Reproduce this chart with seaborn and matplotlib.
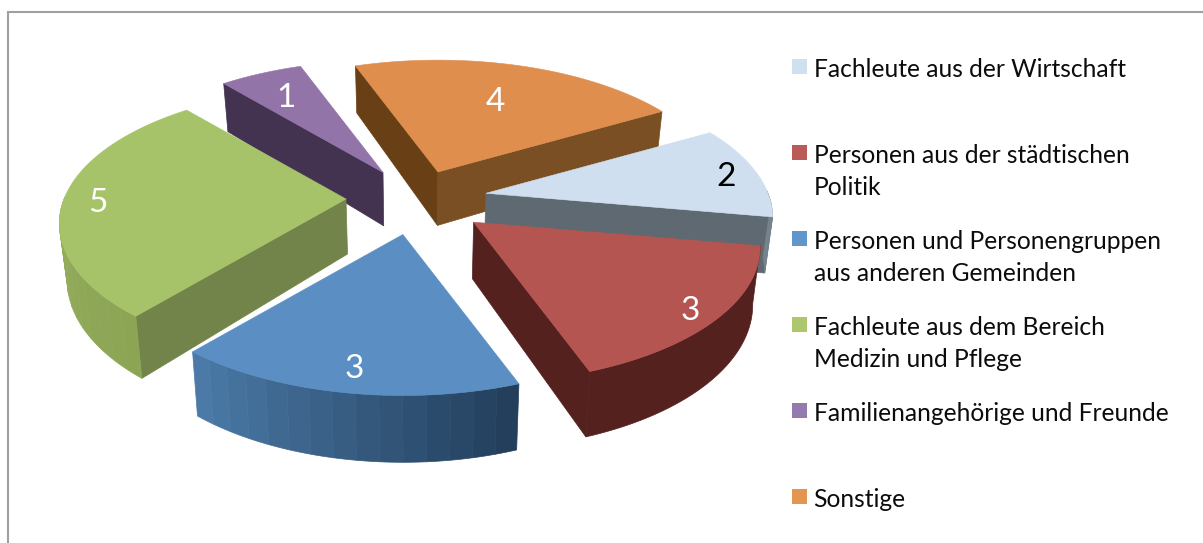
import numpy as np
import matplotlib
matplotlib.use("Agg")
import matplotlib.pyplot as plt
from matplotlib.patches import Polygon, Rectangle
import seaborn as sns

# ---- data ----
categories = ["Fachleute aus der Wirtschaft",
              "Personen aus der städtischen\nPolitik",
              "Personen und Personengruppen\naus anderen Gemeinden",
              "Fachleute aus dem Bereich\nMedizin und Pflege",
              "Familienangehörige und Freunde",
              "Sonstige"]
values = [2, 3, 3, 5, 1, 4]

# ---- styles ----
top_colors = ["#cfdfef", "#b55552", "#5b8fc4", "#a7c36a", "#9274a9", "#df8e4e"]
legend_colors = ["#cfe0f1", "#bb5a57", "#6196ca", "#adc76e", "#957ab0", "#e4964f"]
wall_start = ["#5f6972", "#54211f", "#233f5c", "#8ba555", "#443350", "#7a4f23"]
wall_end = ["#76828c", "#54211f", "#4b7aa8", "#97ad5e", "#443350", "#7a4f23"]
face_a = ["#5f6972", "#54211f", "#233f5c", "#728449", "#443350", "#694016"]
face_b = ["#5f6972", "#54211f", "#4b7aa8", "#728449", "#443350", "#7a4f23"]
text_colors = ["black", "white", "white", "white", "white", "white"]
label_radius = [0.89, 0.90, 0.85, 0.88, 0.77, 0.66]
nudge_x = [2, 5, 0, 1, 3, -1]
nudge_y = [-2, 0, 1, -2, 0, 2]
legend_box_y = [66.5, 152.5, 238.5, 324, 410, 496]
legend_base_y = [77, 163, 249, 335, 421, 507]
draw_order = [5, 4, 3, 0, 2, 1]

sns.set_theme(style="white")
plt.rcParams["font.family"] = ["Lato", "DejaVu Sans"]

W, H = 1203, 543
fig = plt.figure(figsize=(W / 100, H / 100), dpi=100)
ax = fig.add_axes([0, 0, 1, 1])
ax.set_xlim(0, W)
ax.set_ylim(H, 0)
ax.axis("off")

ax.plot([7.5, 7.5, W + 2], [H + 2, 11.5, 11.5], color="#a0a0a0", lw=1.5, solid_joinstyle="miter")

CX, CY, EX, EY = 415, 201, 70, 33
R, RY, P = 282, 132, 0.18
START = 330.0


def project(theta, r=1.0):
    t = np.radians(theta)
    v = r * np.sin(t)
    f = 1 / (1 - P * v)
    return np.array([r * np.cos(t) * R * f, v * RY * f])


def lower(p):
    h = 47 + 0.06 * (p[1] - 65)
    return np.array([CX + (p[0] - CX) * 0.978, p[1] + h])


def quad(a, b, color, z):
    pts = [a, b, lower(b), lower(a)]
    ax.add_patch(Polygon(pts, closed=True, fc=color, ec=color, lw=0.5, zorder=z))


unit = 360.0 / sum(values)
bounds = START + np.concatenate([[0], np.cumsum(values)]) * unit

for z, i in enumerate(draw_order):
    a, b = bounds[i], bounds[i + 1]
    mid = (a + b) / 2
    m = np.radians(mid)
    apex = np.array([CX + EX * np.cos(m) + nudge_x[i], CY + EY * np.sin(m) + nudge_y[i]])
    fine = np.linspace(a, b, int(b - a) + 1)
    rim = np.array([apex + project(t) for t in fine])
    base = z * 10
    if -np.cos(np.radians(a)) > 0:
        quad(apex, rim[0], face_a[i], base)
    if np.cos(np.radians(b)) > 0:
        quad(apex, rim[-1], face_b[i], base)
    # outer wall, in strips of one shade each
    visible = np.sin(np.radians(fine)) > -0.02
    idx = np.where(visible)[0]
    if len(idx) > 1:
        chunks = max((idx[-1] - idx[0]) // 4, 1) if wall_start[i] != wall_end[i] else 1
        cuts = np.linspace(idx[0], idx[-1], chunks + 1).astype(int)
        shades = sns.blend_palette([wall_start[i], wall_end[i]], chunks)
        for k in range(chunks):
            seg = rim[cuts[k]:cuts[k + 1] + 1]
            low = np.array([lower(p) for p in seg])
            ax.add_patch(Polygon(np.vstack([seg, low[::-1]]), closed=True, fc=shades[k],
                                 ec=shades[k], lw=0.5, zorder=base + 1))
    ax.add_patch(Polygon(np.vstack([apex, rim]), closed=True, fc=top_colors[i],
                         ec=top_colors[i], lw=0.4, zorder=base + 2))
    lp = apex + project(mid, label_radius[i])
    ax.text(lp[0], lp[1] + 4, str(values[i]), color=text_colors[i], fontsize=24,
            ha="center", va="center", zorder=base + 3)

for i, name in enumerate(categories):
    ax.add_patch(Rectangle((792, legend_box_y[i] - 7.5), 15, 15, fc=legend_colors[i], ec="none", zorder=200))
    for j, line in enumerate(name.split("\n")):
        ax.text(813.5, legend_base_y[i] + j * 32, line, fontsize=17.7, color="#0c0c0c",
                ha="left", va="baseline", zorder=200)

fig.savefig("out.png", dpi=100, facecolor="white")
